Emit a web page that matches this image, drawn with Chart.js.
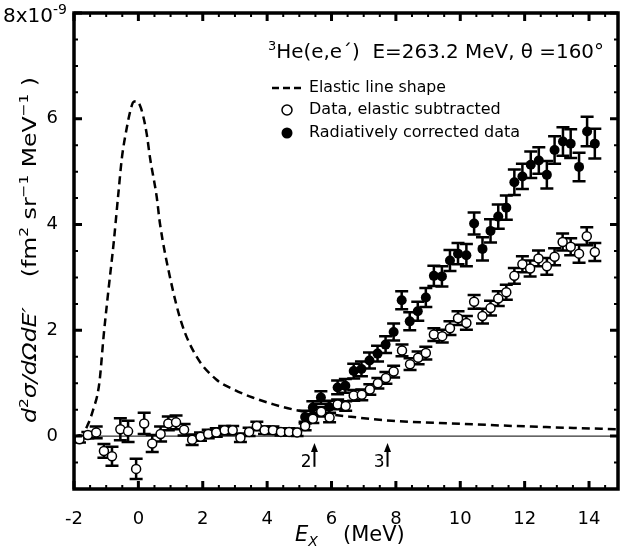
<!DOCTYPE html>
<html>
<head>
<meta charset="utf-8">
<script src="https://cdn.jsdelivr.net/npm/chart.js@4.4.0/dist/chart.umd.min.js"></script>
<style>
html, body { margin: 0; padding: 0; background: #fff; }
</style>
</head>
<body>
<canvas id="spectrum" width="624" height="556"></canvas>
<script>
// data, elastic subtracted (open circles)
const openX = [-1.83, -1.57, -1.31, -1.07, -0.82, -0.56, -0.32, -0.07, 0.18, 0.43, 0.69, 0.93, 1.17, 1.42, 1.67, 1.93,
    2.17, 2.42, 2.68, 2.93, 3.17, 3.44, 3.68, 3.92, 4.18, 4.43, 4.68, 4.93, 5.18, 5.42, 5.68, 5.94,
    6.19, 6.44, 6.69, 6.94, 7.19, 7.44, 7.69, 7.93, 8.19, 8.44, 8.69, 8.93, 9.18, 9.44, 9.68, 9.93,
    10.19, 10.43, 10.69, 10.94, 11.18, 11.43, 11.68, 11.93, 12.17, 12.43, 12.69, 12.93, 13.18, 13.43, 13.69, 13.93, 14.18];
const openY = [-0.06, 0.02, 0.07, -0.28, -0.38, 0.13, 0.09, -0.62, 0.24, -0.14, 0.04, 0.24, 0.26, 0.12, -0.07, -0.01,
    0.04, 0.07, 0.11, 0.11, -0.03, 0.08, 0.19, 0.11, 0.11, 0.08, 0.08, 0.07, 0.19, 0.33, 0.46, 0.35,
    0.60, 0.57, 0.77, 0.78, 0.88, 1.00, 1.10, 1.22, 1.62, 1.36, 1.48, 1.57, 1.92, 1.89, 2.04, 2.23,
    2.14, 2.54, 2.27, 2.42, 2.60, 2.72, 3.03, 3.25, 3.17, 3.36, 3.21, 3.39, 3.67, 3.58, 3.45, 3.78, 3.48];
const openErr = [0.06, 0.06, 0.11, 0.13, 0.18, 0.21, 0.20, 0.19, 0.20, 0.16, 0.14, 0.13, 0.13, 0.11, 0.10, 0.08,
    0.08, 0.08, 0.08, 0.08, 0.08, 0.08, 0.08, 0.07, 0.07, 0.07, 0.07, 0.07, 0.08, 0.08, 0.09, 0.09,
    0.09, 0.09, 0.10, 0.10, 0.10, 0.10, 0.11, 0.11, 0.11, 0.11, 0.12, 0.12, 0.12, 0.12, 0.13, 0.13,
    0.13, 0.13, 0.14, 0.14, 0.14, 0.14, 0.15, 0.15, 0.15, 0.15, 0.16, 0.16, 0.16, 0.16, 0.17, 0.17, 0.17];

// radiatively corrected data (filled circles)
const fillX = [5.18, 5.42, 5.67, 5.93, 6.19, 6.43, 6.69, 6.93, 7.18, 7.43, 7.68, 7.93, 8.18, 8.43, 8.68, 8.93,
    9.18, 9.43, 9.68, 9.93, 10.19, 10.43, 10.69, 10.94, 11.18, 11.43, 11.68, 11.93, 12.19, 12.44, 12.69, 12.93,
    13.19, 13.43, 13.69, 13.94, 14.18];
const fillY = [0.36, 0.54, 0.73, 0.55, 0.92, 0.95, 1.23, 1.27, 1.43, 1.56, 1.73, 1.97, 2.57, 2.17, 2.36, 2.62,
    3.03, 3.02, 3.32, 3.45, 3.42, 4.02, 3.54, 3.88, 4.15, 4.32, 4.80, 4.91, 5.13, 5.21, 4.94, 5.41,
    5.57, 5.53, 5.09, 5.76, 5.53];
const fillErr = [0.12, 0.12, 0.12, 0.12, 0.13, 0.13, 0.14, 0.14, 0.15, 0.15, 0.16, 0.16, 0.17, 0.17, 0.18, 0.18,
    0.19, 0.19, 0.20, 0.20, 0.21, 0.21, 0.22, 0.22, 0.23, 0.23, 0.24, 0.24, 0.25, 0.25, 0.26, 0.26,
    0.27, 0.27, 0.27, 0.28, 0.28];

// elastic line shape (dashed)
const lineX = [-1.62, -1.5, -1.38, -1.28, -1.2, -1.08, -0.93, -0.77, -0.62, -0.51, -0.36, -0.25, -0.15, -0.05, 0.05, 0.15,
    0.26, 0.36, 0.57, 0.67, 0.98, 1.34, 1.8, 2.42, 3.0, 3.55, 4.2, 5.0, 5.8, 6.53, 7.87, 10.1, 12.2, 14.9];
const lineY = [0.15, 0.32, 0.55, 0.76, 1.07, 1.89, 2.76, 3.64, 4.6, 5.27, 5.83, 6.15, 6.32, 6.33, 6.25, 6.05,
    5.71, 5.27, 4.52, 4.02, 3.01, 2.14, 1.51, 1.07, 0.87, 0.73, 0.6, 0.48, 0.42, 0.37, 0.29, 0.23, 0.18, 0.13];

const xTicks = [-2, 0, 2, 4, 6, 8, 10, 12, 14];
const yTicks = [0, 2, 4, 6];
const arrowX = [5.47, 7.74];
const arrowLabels = ['2', '3'];

const FONT = "'DejaVu Sans'";

function drawRuns(ctx, runs, x, y) {
    let cx = x;
    for (const r of runs) {
        ctx.font = r.font;
        ctx.fillText(r.text, cx, y + (r.dy || 0));
        cx += ctx.measureText(r.text).width;
    }
    return cx - x;
}
function runsWidth(ctx, runs) {
    let w = 0;
    for (const r of runs) { ctx.font = r.font; w += ctx.measureText(r.text).width; }
    return w;
}

const extras = {
    id: 'extras',
    beforeDatasetsDraw(chart) {
        const {ctx, chartArea: a, scales: {x, y}} = chart;
        ctx.save();
        ctx.strokeStyle = '#000';
        ctx.lineWidth = 1;
        const y0 = y.getPixelForValue(0);
        ctx.beginPath(); ctx.moveTo(a.left, y0); ctx.lineTo(a.right, y0); ctx.stroke();

        ctx.lineWidth = 2.5;
        [[fillX, fillY, fillErr], [openX, openY, openErr]].forEach(([xs, ys, es]) => {
            xs.forEach((v, i) => {
                const px = x.getPixelForValue(v);
                const top = y.getPixelForValue(ys[i] + es[i]);
                const bot = y.getPixelForValue(ys[i] - es[i]);
                ctx.beginPath();
                ctx.moveTo(px, top); ctx.lineTo(px, bot);
                ctx.moveTo(px - 6.5, top); ctx.lineTo(px + 6.5, top);
                ctx.moveTo(px - 6.5, bot); ctx.lineTo(px + 6.5, bot);
                ctx.stroke();
            });
        });
        ctx.restore();
    },
    afterDraw(chart) {
        const {ctx, chartArea: a, scales: {x, y}} = chart;
        ctx.save();
        ctx.strokeStyle = '#000';
        ctx.fillStyle = '#000';

        // ticks on all four sides, pointing in
        for (let v = -2; v <= 14.9; v += 0.5) {
            const px = x.getPixelForValue(v);
            const major = Math.abs(v % 2) < 1e-9;
            const len = major ? 8 : 4;
            ctx.lineWidth = major ? 3 : 2;
            ctx.beginPath();
            ctx.moveTo(px, a.bottom); ctx.lineTo(px, a.bottom - len);
            ctx.moveTo(px, a.top); ctx.lineTo(px, a.top + len);
            ctx.stroke();
        }
        for (let v = -1; v <= 8; v += 0.5) {
            const py = y.getPixelForValue(v);
            const major = Math.abs(v % 2) < 1e-9;
            const len = major ? 8 : 4;
            ctx.lineWidth = major ? 3 : 2;
            ctx.beginPath();
            ctx.moveTo(a.left, py); ctx.lineTo(a.left + len, py);
            ctx.moveTo(a.right, py); ctx.lineTo(a.right - len, py);
            ctx.stroke();
        }

        // frame
        ctx.lineWidth = 3.5;
        ctx.strokeRect(a.left, a.top, a.right - a.left, a.bottom - a.top);

        // arrows
        ctx.lineWidth = 2;
        ctx.font = '17px ' + FONT;
        ctx.textAlign = 'right';
        ctx.textBaseline = 'alphabetic';
        arrowX.forEach((v, i) => {
            const px = x.getPixelForValue(v);
            const yb = y.getPixelForValue(-0.58), yt = y.getPixelForValue(-0.13);
            ctx.beginPath(); ctx.moveTo(px, yb); ctx.lineTo(px, yt + 6); ctx.stroke();
            ctx.beginPath(); ctx.moveTo(px, yt); ctx.lineTo(px - 3.5, yt + 9); ctx.lineTo(px + 3.5, yt + 9); ctx.closePath(); ctx.fill();
            ctx.fillText(arrowLabels[i], px - 3, yb);
        });

        // title
        ctx.textAlign = 'left';
        const titleRuns = [
            {text: '3', font: '13px ' + FONT, dy: -8},
            {text: 'He(e,e\u00B4)  E=263.2 MeV, \u03B8 =160\u00B0', font: '20px ' + FONT}
        ];
        const tw = runsWidth(ctx, titleRuns);
        ctx.save();
        ctx.translate(268, 58);
        ctx.scale(Math.min(1, 336 / tw), 1);
        drawRuns(ctx, titleRuns, 0, 0);
        ctx.restore();

        // legend
        ctx.lineWidth = 2.5;
        ctx.setLineDash([7, 4]);
        ctx.beginPath(); ctx.moveTo(272, 88); ctx.lineTo(305, 88); ctx.stroke();
        ctx.setLineDash([]);
        ctx.lineWidth = 1.5;
        ctx.fillStyle = '#fff';
        ctx.beginPath(); ctx.arc(287, 110, 5, 0, Math.PI * 2); ctx.fill(); ctx.stroke();
        ctx.fillStyle = '#000';
        ctx.beginPath(); ctx.arc(287, 133, 5.5, 0, Math.PI * 2); ctx.fill();
        ctx.font = '16px ' + FONT;
        ctx.textBaseline = 'middle';
        ctx.fillText('Elastic line shape', 309, 88, 137);
        ctx.fillText('Data, elastic subtracted', 309, 110, 194);
        ctx.fillText('Radiatively corrected data', 309, 133, 212);

        // top-left multiplier
        ctx.textBaseline = 'alphabetic';
        drawRuns(ctx, [
            {text: '8x10', font: '20px ' + FONT},
            {text: '-9', font: '14px ' + FONT, dy: -8}
        ], 3, 22);

        // y title
        const yRuns = [
            {text: 'd', font: 'italic 20px ' + FONT},
            {text: '2', font: '13px ' + FONT, dy: -8},
            {text: '\u03C3/', font: 'italic 20px ' + FONT},
            {text: 'd\u03A9dE\u2032', font: 'italic 20px ' + FONT},
            {text: '    (fm', font: '20px ' + FONT},
            {text: '2', font: '13px ' + FONT, dy: -8},
            {text: ' sr', font: '20px ' + FONT},
            {text: '\u22121', font: '13px ' + FONT, dy: -8},
            {text: ' MeV', font: '20px ' + FONT},
            {text: '\u22121', font: '13px ' + FONT, dy: -8},
            {text: ' )', font: '20px ' + FONT}
        ];
        const yw = runsWidth(ctx, yRuns);
        ctx.save();
        ctx.translate(36, 423);
        ctx.rotate(-Math.PI / 2);
        ctx.scale(Math.min(1.2, 346 / yw), 1);
        drawRuns(ctx, yRuns, 0, 0);
        ctx.restore();

        // x title
        drawRuns(ctx, [
            {text: 'E', font: 'italic 21px ' + FONT},
            {text: 'X', font: 'italic 14px ' + FONT, dy: 5}
        ], 295, 541);
        ctx.font = '21px ' + FONT;
        ctx.fillText('(MeV)', 343, 541);

        ctx.restore();
    }
};

const ctx = document.getElementById('spectrum').getContext('2d');

const data = {
    datasets: [
        {
            label: 'Data, elastic subtracted',
            data: openX.map((v, i) => ({x: v, y: openY[i]})),
            pointRadius: 4.5,
            pointBackgroundColor: '#fff',
            pointBorderColor: '#000',
            pointBorderWidth: 1.5,
            showLine: false,
            order: 0
        },
        {
            label: 'Radiatively corrected data',
            data: fillX.map((v, i) => ({x: v, y: fillY[i]})),
            pointRadius: 5,
            pointBackgroundColor: '#000',
            pointBorderColor: '#000',
            pointBorderWidth: 0,
            showLine: false,
            order: 1
        },
        {
            label: 'Elastic line shape',
            data: lineX.map((v, i) => ({x: v, y: lineY[i]})),
            showLine: true,
            borderColor: '#000',
            borderWidth: 2.5,
            borderDash: [8, 5],
            pointRadius: 0,
            cubicInterpolationMode: 'monotone',
            fill: false,
            order: 2
        }
    ]
};

const config = {
    type: 'scatter',
    data: data,
    options: {
        responsive: false,
        animation: false,
        devicePixelRatio: 1,
        layout: {padding: {top: 13, right: 4, left: 0, bottom: 0}},
        plugins: {legend: {display: false}, tooltip: {enabled: false}},
        scales: {
            x: {
                type: 'linear',
                min: -2,
                max: 14.9,
                afterBuildTicks: (s) => { s.ticks = xTicks.map(v => ({value: v})); },
                afterFit: (s) => { s.height = 67; s.paddingLeft = 0; s.paddingRight = 0; },
                grid: {display: false},
                border: {display: false},
                ticks: {
                    color: '#000',
                    padding: 12,
                    maxRotation: 0,
                    font: {size: 18, family: 'DejaVu Sans'}
                }
            },
            y: {
                type: 'linear',
                min: -1,
                max: 8,
                afterBuildTicks: (s) => { s.ticks = yTicks.map(v => ({value: v})); },
                afterFit: (s) => { s.width = 74; s.paddingTop = 0; s.paddingBottom = 0; },
                grid: {display: false},
                border: {display: false},
                ticks: {
                    color: '#000',
                    padding: 8,
                    font: {size: 18, family: 'DejaVu Sans'}
                }
            }
        }
    },
    plugins: [extras]
};

const spectrumChart = new Chart(ctx, config);
</script>
</body>
</html>
